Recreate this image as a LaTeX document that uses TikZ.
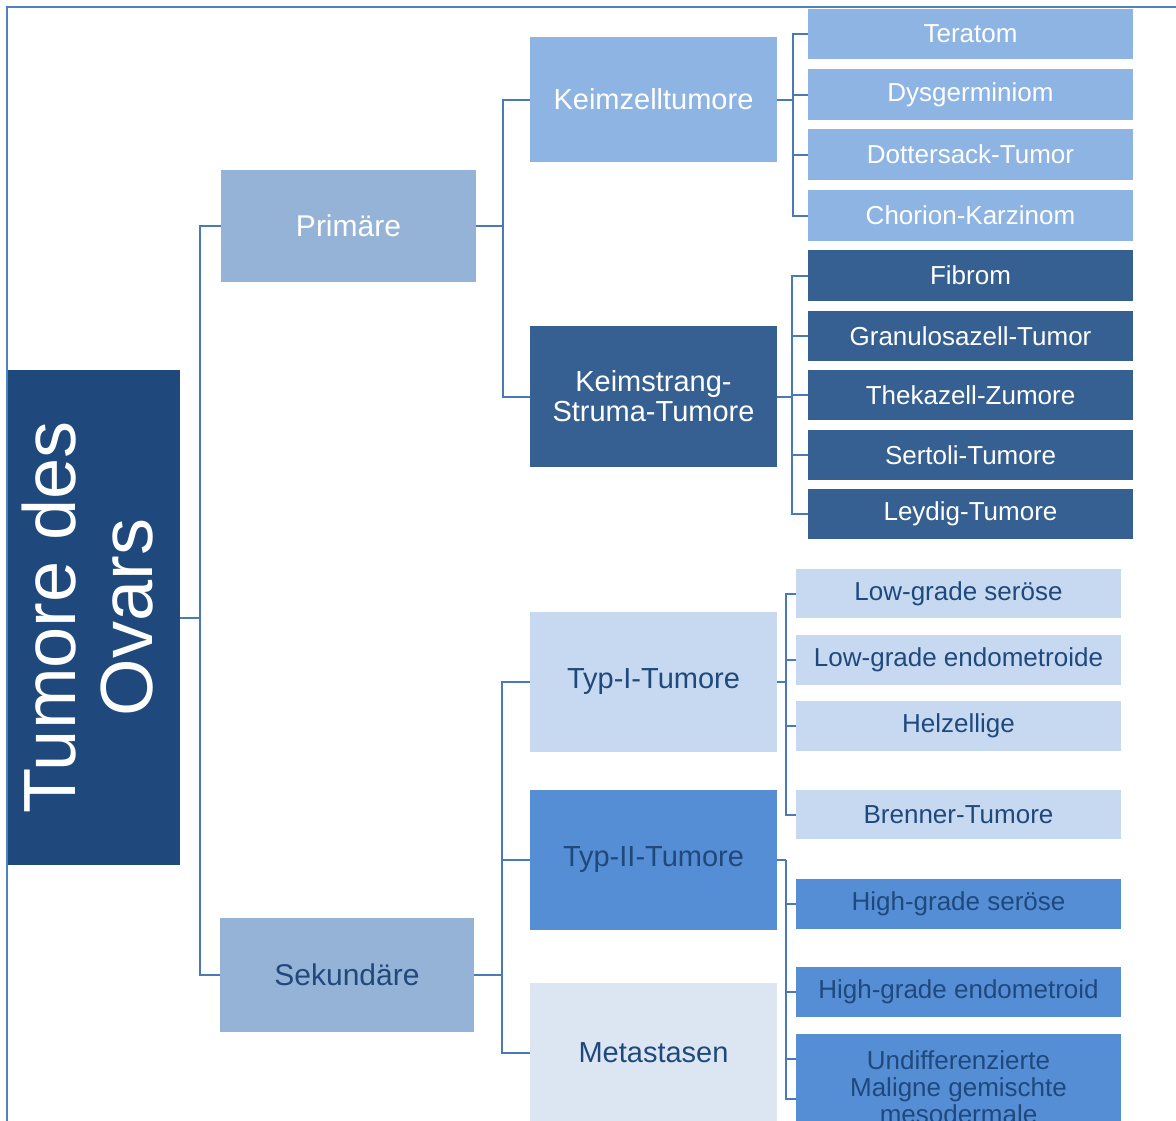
\documentclass[tikz,border=0pt]{standalone}
\usepackage{fontspec}
\setmainfont{Liberation Sans}
\usepackage{graphicx}

\definecolor{rootblue}{HTML}{1F497D}
\definecolor{lvlone}{HTML}{95B3D7}
\definecolor{kzblue}{HTML}{8DB4E2}
\definecolor{ksblue}{HTML}{366092}
\definecolor{typone}{HTML}{C6D9F1}
\definecolor{typtwo}{HTML}{558ED5}
\definecolor{metablue}{HTML}{DCE6F2}
\definecolor{darktext}{HTML}{1F497D}
\definecolor{framecol}{HTML}{4F81BD}
\definecolor{linkcol}{HTML}{4A7AB5}

\begin{document}
\begin{tikzpicture}[x=1pt,y=-1pt,
  box/.style={rectangle, draw=none, inner sep=0pt, align=center},
  lvlonebox/.style={box, fill=lvlone, font=\fontsize{30}{31}\selectfont},
  midbox/.style={box, minimum width=247pt, font=\fontsize{29}{30}\selectfont},
  leafA/.style={box, minimum width=325pt, minimum height=50.5pt, font=\fontsize{26}{27}\selectfont},
  leafB/.style={box, minimum width=325pt, minimum height=49.5pt, font=\fontsize{26}{27}\selectfont},
  link/.style={draw=linkcol, line width=2pt},
]
% page area
\clip (0,0) rectangle (1176,1120);
\fill[white] (0,0) rectangle (1176,1120);

% outer frame, running off the right and bottom edges
\draw[framecol, line width=2pt] (7.4,1300) -- (7.4,7.4) -- (1300,7.4);

% root
\node[box, fill=rootblue, text=white, minimum width=172pt, minimum height=495pt] (root) at (94,617.5)
  {\hspace{8pt}\rotatebox{90}{\fontsize{74}{78}\selectfont\begin{tabular}{@{}c@{}}Tumore des\\[-1pt]Ovars\end{tabular}}};

% first level
\node[lvlonebox, text=white, minimum width=255pt, minimum height=112pt] (prim) at (348.5,226) {Primäre};
\node[lvlonebox, text=darktext, minimum width=254pt, minimum height=114pt] (sek) at (347,975) {Sekundäre};

% second level
\node[midbox, fill=kzblue, text=white, minimum height=125pt] (kz) at (653.5,99.5) {Keimzelltumore};
\node[midbox, fill=ksblue, text=white, minimum height=141pt] (ks) at (653.5,396.5) {Keimstrang-\\Struma-Tumore};
\node[midbox, fill=typone, text=darktext, minimum height=140pt] (typA) at (653.5,682) {Typ-I-Tumore};
\node[midbox, fill=typtwo, text=darktext, minimum height=140pt] (typB) at (653.5,860) {Typ-II-Tumore};
\node[midbox, fill=metablue, text=darktext, minimum height=140pt] (meta) at (653.5,1053) {Metastasen};

% germ cell leaves
\node[leafA, fill=kzblue, text=white] (kz1) at (970.5,34) {Teratom};
\node[leafA, fill=kzblue, text=white] (kz2) at (970.5,94.5) {Dysgerminiom};
\node[leafA, fill=kzblue, text=white] (kz3) at (970.5,154.5) {Dottersack-Tumor};
\node[leafA, fill=kzblue, text=white] (kz4) at (970.5,215.5) {Chorion-Karzinom};

% sex cord stromal leaves
\node[leafA, fill=ksblue, text=white] (ks1) at (970.5,275.5) {Fibrom};
\node[leafA, fill=ksblue, text=white] (ks2) at (970.5,336) {Granulosazell-Tumor};
\node[leafA, fill=ksblue, text=white] (ks3) at (970.5,395) {Thekazell-Zumore};
\node[leafA, fill=ksblue, text=white] (ks4) at (970.5,455) {Sertoli-Tumore};
\node[leafA, fill=ksblue, text=white] (ks5) at (970.5,514) {Leydig-Tumore};

% type I leaves
\node[leafB, fill=typone, text=darktext] (ta1) at (958.5,593.5) {Low-grade seröse};
\node[leafB, fill=typone, text=darktext] (ta2) at (958.5,660) {Low-grade endometroide};
\node[leafB, fill=typone, text=darktext] (ta3) at (958.5,726) {Helzellige};
\node[leafB, fill=typone, text=darktext] (ta4) at (958.5,814.5) {Brenner-Tumore};

% type II leaves
\node[leafB, fill=typtwo, text=darktext] (tb1) at (958.5,904) {High-grade seröse};
\node[leafB, fill=typtwo, text=darktext] (tb2) at (958.5,992) {High-grade endometroid};
\node[leafB, fill=typtwo, text=darktext, minimum height=106pt] (tb3) at (958.5,1087)
  {Undifferenzierte\\Maligne gemischte\\mesodermale};
\coordinate (tb3a) at (796,1059);
\coordinate (tb3b) at (796,1099);

% connectors: root
\draw[link] (root.east) -- ++(20,0) coordinate (rb);
\draw[link] (rb) |- (prim.west);
\draw[link] (rb) |- (sek.west);

% connectors: primary
\draw[link] (prim.east) -- ++(27,0) coordinate (pb);
\draw[link] (pb) |- (kz.west);
\draw[link] (pb) |- (ks.west);

% connectors: secondary
\draw[link] (sek.east) -- ++(28,0) coordinate (sb);
\draw[link] (sb) |- (typA.west);
\draw[link] (sb) |- (typB.west);
\draw[link] (sb) |- (meta.west);

% connectors: germ cell tumours
\draw[link] (kz.east) -- ++(16,0) coordinate (kzb);
\foreach \n in {kz1,kz2,kz3,kz4} \draw[link] (kzb) |- (\n.west);

% connectors: sex cord stromal tumours
\draw[link] (ks.east) -- ++(15,0) coordinate (ksb);
\foreach \n in {ks1,ks2,ks3,ks4,ks5} \draw[link] (ksb) |- (\n.west);

% connectors: type I
\draw[link] (typA.east) -- ++(9,0) coordinate (tab);
\foreach \n in {ta1,ta2,ta3,ta4} \draw[link] (tab) |- (\n.west);

% connectors: type II
\draw[link] (typB.east) -- ++(9,0) coordinate (tbb);
\foreach \n in {tb1,tb2,tb3a,tb3b} \draw[link] (tbb) |- (\n);
\end{tikzpicture}
\end{document}
